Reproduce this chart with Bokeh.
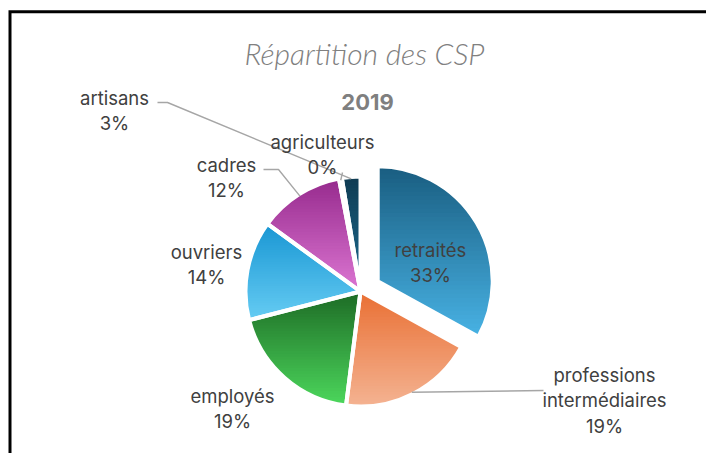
import numpy as np
from bokeh.plotting import figure
from bokeh.models import Range1d, Label, ColumnDataSource
from bokeh.core.properties import value
from bokeh.embed import file_html
from bokeh.resources import INLINE

# ---------------- data ----------------
TITLE = "Répartition des CSP"
SUBTITLE = "2019"
categories = ["retraités", "professions intermédiaires", "employés", "ouvriers",
              "cadres", "agriculteurs", "artisans"]
label_names = ["retraités", "professions\nintermédiaires", "employés", "ouvriers",
               "cadres", "agriculteurs", "artisans"]
shares = [33, 19, 19, 14, 12, 0.4, 2.6]

# ---------------- styles ----------------
top_colors = ["#195d80", "#e96f33", "#1d6a25", "#1896d3", "#962a8d", "#0f2f3d", "#0f3b52"]
bottom_colors = ["#48b2e4", "#f4b392", "#4cd75c", "#66ccf3", "#dc76d2", "#1d6a8f", "#1e6d92"]
explode = [20, 0, 0, 0, 0, 0, 0]

W, H = 706, 453
CX, CY, R = 360, 162, 115
LABEL_COLOR = "#404040"
FONT = "Inter"

# label layout (canvas pixels, y up)
label_pos = {
    "retraités": (430, 191),
    "professions intermédiaires": (604, 53),
    "employés": (232, 45),
    "ouvriers": (206, 189),
    "cadres": (226, 276),
    "agriculteurs": (322, 299),
    "artisans": (114, 343),
}
# leader lines: start points, ending on the slice edge
leader_start = {
    "artisans": [(157, 351), (167, 351)],
    "agriculteurs": [(342, 281)],
    "cadres": [(263, 284), (278, 284)],
    "professions intermédiaires": [(543, 63)],
}

p = figure(width=W, height=H, x_range=Range1d(0, W), y_range=Range1d(0, H),
           output_backend="svg", toolbar_location=None, min_border=0,
           outline_line_color=None, background_fill_color="white",
           border_fill_color="white")
p.axis.visible = False
p.grid.visible = False

# frame lines
p.line(x=[9.5, 9.5, W], y=[0, 441.7, 441.7], line_color="black",
       line_width=3, line_join="miter")


def clip(poly, y, keep_above):
    out = []
    n = len(poly)
    for i in range(n):
        P = poly[i]
        Q = poly[(i + 1) % n]
        pin = P[1] >= y if keep_above else P[1] <= y
        qin = Q[1] >= y if keep_above else Q[1] <= y
        if pin:
            out.append(P)
        if pin != qin:
            t = (y - P[1]) / (Q[1] - P[1])
            out.append((P[0] + t * (Q[0] - P[0]), y))
    return out


def hex2rgb(h):
    return np.array([int(h[i:i + 2], 16) for i in (1, 3, 5)], dtype=float)


def rgb2hex(c):
    return "#%02x%02x%02x" % tuple(int(round(v)) for v in c)


total = float(sum(shares))
cum = np.concatenate([[0], np.cumsum(shares)]) / total
a_start = 90 - cum[:-1] * 360  # degrees, anticlockwise from +x
a_end = 90 - cum[1:] * 360
mids = (a_start + a_end) / 2

centers = []
for i in range(len(shares)):
    m = np.radians(mids[i])
    centers.append((CX + explode[i] * np.cos(m), CY + explode[i] * np.sin(m)))

# gradient fills
xs_all, ys_all, cols = [], [], []
NB = 40
for i in range(len(shares)):
    cx, cy = centers[i]
    th = np.radians(np.linspace(a_start[i], a_end[i], 90))
    poly = [(cx, cy)] + [(cx + R * np.cos(t), cy + R * np.sin(t)) for t in th]
    ys = [q[1] for q in poly]
    ymin, ymax = min(ys), max(ys)
    c0, c1 = hex2rgb(top_colors[i]), hex2rgb(bottom_colors[i])
    edges = np.linspace(ymax, ymin, NB + 1)
    for b in range(NB):
        yt, yb = edges[b] + 0.4, edges[b + 1] - 0.4
        pb = clip(clip(poly, yt, False), yb, True)
        if len(pb) < 3:
            continue
        t = (b + 0.5) / NB
        xs_all.append([q[0] for q in pb])
        ys_all.append([q[1] for q in pb])
        cols.append(rgb2hex(c0 + (c1 - c0) * t))

p.patches(xs=xs_all, ys=ys_all, fill_color=cols, line_color=None)

# white separators
p.wedge(x=[c[0] for c in centers], y=[c[1] for c in centers], radius=R,
        start_angle=list(a_end), end_angle=list(a_start),
        start_angle_units="deg", end_angle_units="deg",
        fill_color=None, line_color="white", line_width=4)

# leader lines
for name, pts in leader_start.items():
    i = categories.index(name)
    m = np.radians(mids[i])
    cx, cy = centers[i]
    end = (cx + (R - 2) * np.cos(m), cy + (R - 2) * np.sin(m))
    path = pts + [end]
    p.line(x=[q[0] for q in path], y=[q[1] for q in path], line_color="#a6a6a6",
           line_width=1.4)

# data labels
src = ColumnDataSource(dict(
    x=[label_pos[c][0] for c in categories],
    y=[label_pos[c][1] for c in categories],
    text=[f"{n}\n{round(s / total * 100)}%" for n, s in zip(label_names, shares)],
))
p.text(x="x", y="y", text="text", source=src, text_align="center",
       text_baseline="middle", text_font=value(FONT), text_font_size="18.5px",
       text_color=LABEL_COLOR, text_line_height=1.17)

p.add_layout(Label(x=364, y=401, text=TITLE, text_align="center",
                   text_baseline="middle", text_font="Lato Light",
                   text_font_style="italic", text_font_size="30px",
                   text_color="#808080"))
p.add_layout(Label(x=367, y=352, text=SUBTITLE, text_align="center",
                   text_baseline="middle", text_font=FONT,
                   text_font_style="bold", text_font_size="22px",
                   text_color="#7f7f7f"))

open("out.html", "w").write(file_html(p, INLINE))
